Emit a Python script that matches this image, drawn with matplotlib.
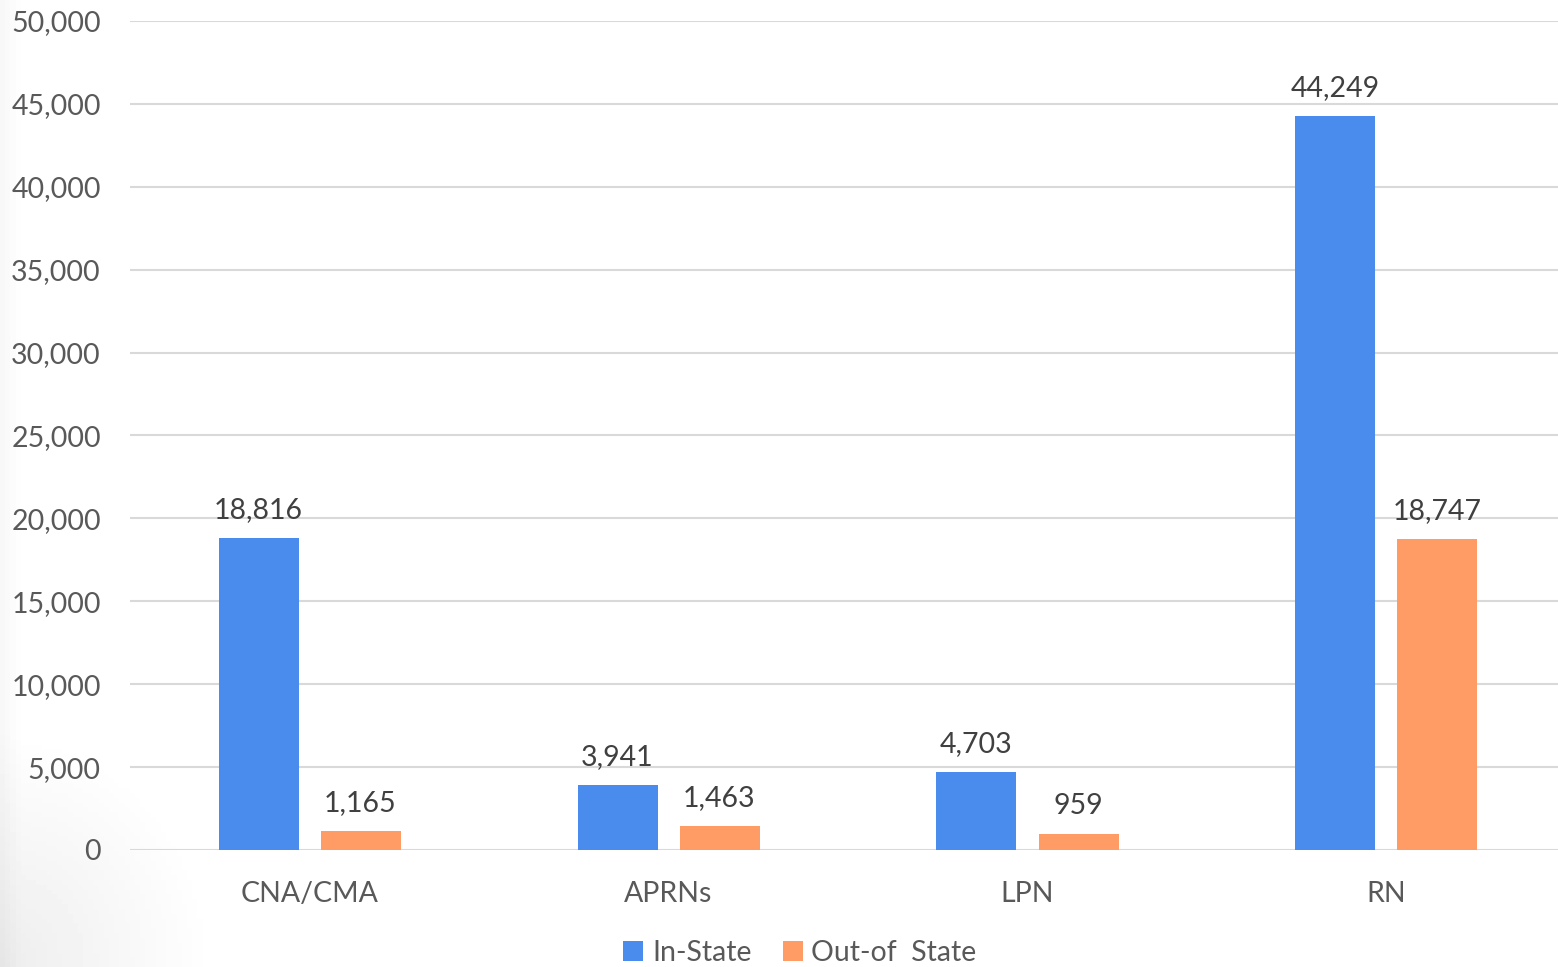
import numpy as np
import matplotlib
matplotlib.use("Agg")
import matplotlib.pyplot as plt
from matplotlib.ticker import FuncFormatter

categories = ["CNA/CMA", "APRNs", "LPN", "RN"]
in_state = [18816, 3941, 4703, 44249]
out_of_state = [1165, 1463, 959, 18747]
series_names = ["In-State", "Out-of  State"]

plt.rcParams["font.family"] = ["Lato", "DejaVu Sans"]

BLUE = "#4a8cee"
ORANGE = "#ff9c66"
TEXT = "#595959"
LABEL = "#404040"
GRID = "#d9d9d9"
FS = 20.5

fig = plt.figure(figsize=(15.58, 9.67), dpi=100)

# soft grey shading along the left edge of the slide
bg = fig.add_axes([0, 0, 1, 1], zorder=-10)
yy, xx = np.mgrid[0:1:200j, 0:1:300j]
dist = np.sqrt((xx * 1.6) ** 2 + ((yy) * 0.9) ** 2)
shade = np.clip(1 - dist / 0.22, 0, 1) * 0.07 + np.clip(1 - xx / 0.012, 0, 1) * 0.03
bg.imshow(1 - shade, cmap="gray", vmin=0, vmax=1, aspect="auto",
          extent=[0, 1, 0, 1], origin="lower")
bg.axis("off")

ax = fig.add_axes([130 / 1558, 1 - 850 / 967, 1436 / 1558, (850 - 21) / 967])
ax.patch.set_alpha(0)

x = np.arange(len(categories))
w = 80 / 359
off = 51 / 359
b1 = ax.bar(x - off, in_state, w, color=BLUE, label=series_names[0], zorder=3)
b2 = ax.bar(x + off, out_of_state, w, color=ORANGE, label=series_names[1], zorder=3)

for bars, vals in ((b1, in_state), (b2, out_of_state)):
    for rect, v in zip(bars, vals):
        ax.text(rect.get_x() + rect.get_width() / 2, v + 900, f"{v:,}",
                ha="center", va="bottom", fontsize=FS, color=LABEL, zorder=4)

ax.set_xlim(-0.5, 3.5)
ax.set_ylim(0, 50000)
ax.set_yticks(np.arange(0, 50001, 5000))
ax.yaxis.set_major_formatter(FuncFormatter(lambda v, p: f"{int(v):,}"))
ax.set_xticks(x)
ax.set_xticklabels(categories)
ax.tick_params(axis="both", length=0, labelsize=FS, colors=TEXT)
ax.tick_params(axis="y", pad=21)
ax.tick_params(axis="x", pad=22)
ax.grid(axis="y", color=GRID, linewidth=1.5, zorder=0)
ax.set_axisbelow(True)
for s in ax.spines.values():
    s.set_visible(False)

leg = fig.legend(loc="center", bbox_to_anchor=(800 / 1558, 1 - 953 / 967), ncol=2,
                 frameon=False, fontsize=FS, handlelength=0.7, handleheight=0.7,
                 handletextpad=0.3, columnspacing=1.1)
for t in leg.get_texts():
    t.set_color(TEXT)

fig.savefig("out.png", dpi=100)
